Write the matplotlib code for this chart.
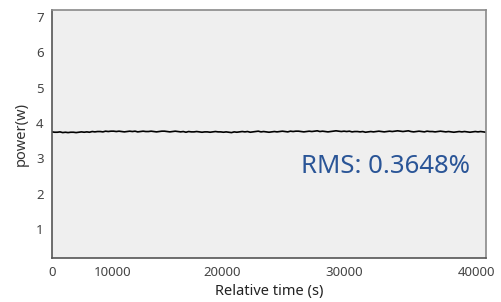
import matplotlib
matplotlib.use("Agg")
import matplotlib.pyplot as plt

# Data
time_s = list(range(0, 40501, 250))
power_w = [3.75, 3.74, 3.74, 3.75, 3.73, 3.74, 3.73, 3.74, 3.74, 3.73,
           3.74, 3.75, 3.74, 3.75, 3.74, 3.76, 3.75, 3.76, 3.76, 3.75,
           3.77, 3.76, 3.77, 3.77, 3.76, 3.77, 3.76, 3.75, 3.76, 3.77,
           3.76, 3.77, 3.75, 3.76, 3.77, 3.76, 3.76, 3.77, 3.76, 3.75,
           3.76, 3.77, 3.77, 3.76, 3.75, 3.76, 3.77, 3.76, 3.75, 3.76,
           3.74, 3.76, 3.75, 3.75, 3.76, 3.75, 3.74, 3.75, 3.75, 3.74,
           3.75, 3.76, 3.75, 3.75, 3.74, 3.75, 3.74, 3.73, 3.75, 3.74,
           3.75, 3.76, 3.75, 3.76, 3.74, 3.75, 3.76, 3.77, 3.75, 3.76,
           3.75, 3.74, 3.75, 3.76, 3.75, 3.76, 3.77, 3.76, 3.75, 3.77,
           3.76, 3.77, 3.77, 3.76, 3.75, 3.76, 3.77, 3.76, 3.77, 3.78,
           3.76, 3.77, 3.76, 3.75, 3.76, 3.77, 3.78, 3.77, 3.76, 3.77,
           3.76, 3.77, 3.75, 3.76, 3.76, 3.75, 3.76, 3.74, 3.75, 3.76,
           3.75, 3.76, 3.77, 3.76, 3.75, 3.76, 3.77, 3.76, 3.77, 3.78,
           3.77, 3.76, 3.77, 3.78, 3.76, 3.75, 3.76, 3.77, 3.76, 3.75,
           3.77, 3.76, 3.76, 3.75, 3.76, 3.77, 3.76, 3.75, 3.76, 3.75,
           3.74, 3.75, 3.76, 3.75, 3.76, 3.75, 3.74, 3.75, 3.76, 3.75,
           3.76, 3.75, 3.74]
x_tick_labels = ["0", "10000", "20000", "30000", "40000"]
x_tick_pos = [0, 5700, 15900, 27300, 39600]  # label placement as in the reference
y_ticks = [1, 2, 3, 4, 5, 6, 7]
rms_text = "RMS: 0.3648%"

plt.rcParams['font.family'] = ['Noto Sans', 'DejaVu Sans']

fig = plt.figure(figsize=(5.01, 3.02), dpi=100)
ax = fig.add_axes([52/501, 1 - 258/302, (486-52)/501, (258-10)/302])
ax.set_facecolor('#efefef')
ax.plot(time_s, power_w, color='black', lw=1.2)
ax.set_xlim(0, 40500)
ax.set_ylim(0.18, 7.2)
ax.set_yticks(y_ticks)
ax.set_xticks(x_tick_pos)
ax.set_xticklabels(x_tick_labels)
ax.tick_params(length=0, labelsize=9.5, colors='#444444', pad=6)
ax.tick_params(axis='x', pad=6)
for s in ['left', 'bottom']:
    ax.spines[s].set_color('#555555')
    ax.spines[s].set_linewidth(1.2)
for s in ['top', 'right']:
    ax.spines[s].set_color('#8a8a8a')
    ax.spines[s].set_linewidth(1.2)
ax.set_xlabel("Relative time (s)", fontsize=10.5, color='#222222', labelpad=3)
ax.set_ylabel("power(w)", fontsize=10.5, color='#333333', labelpad=5)
ax.text(0.962, 0.37, rms_text, transform=ax.transAxes, ha='right', va='center',
        fontsize=18.5, color='#2a5597')
fig.savefig("out.png", dpi=100, facecolor='white')
